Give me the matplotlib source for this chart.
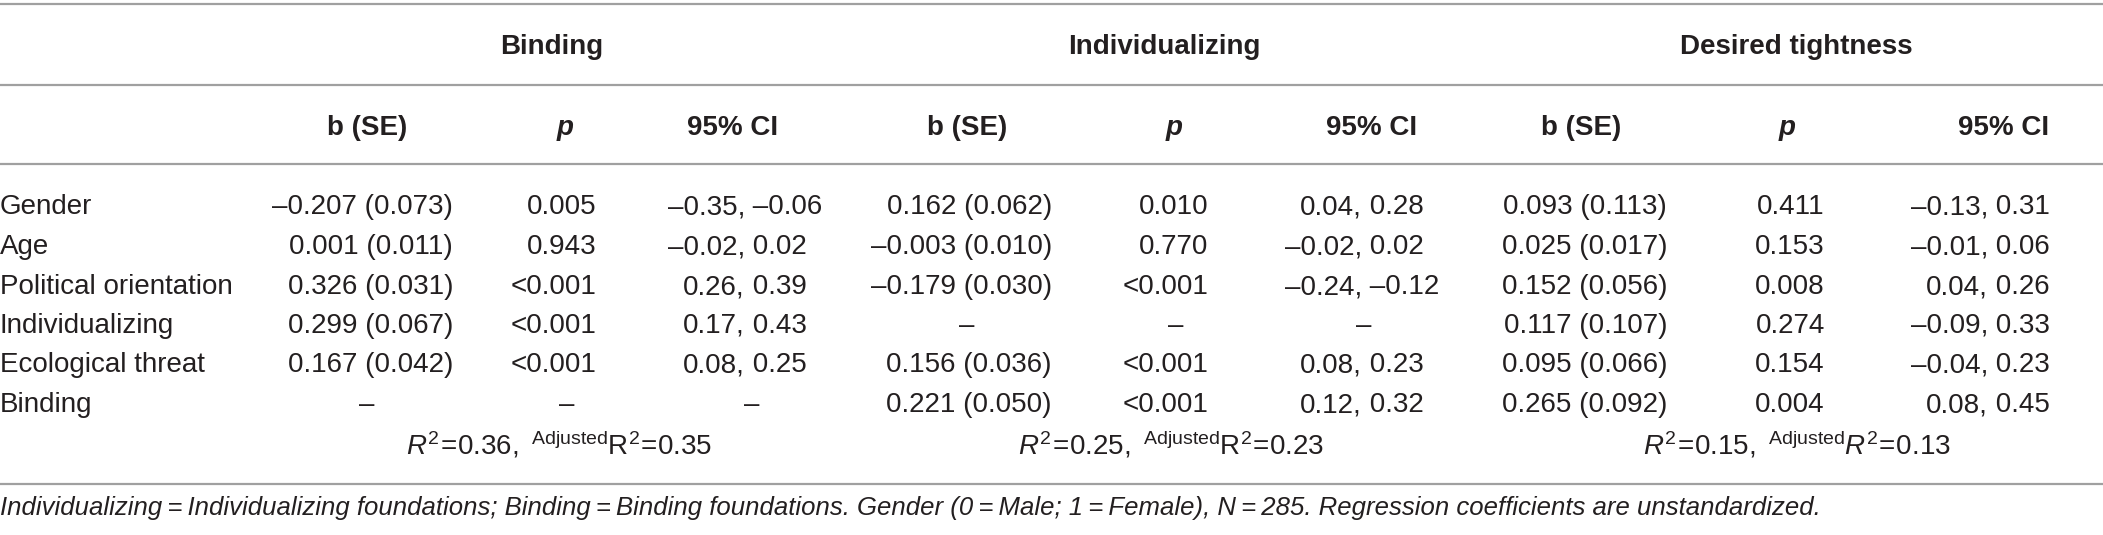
import matplotlib
matplotlib.use("Agg")
import matplotlib.pyplot as plt

plt.rcParams['font.family'] = ['Liberation Sans', 'DejaVu Sans']
plt.rcParams['mathtext.fontset'] = 'custom'
plt.rcParams['mathtext.rm'] = 'Liberation Sans'
plt.rcParams['mathtext.it'] = 'Liberation Sans:italic'
plt.rcParams['mathtext.bf'] = 'Liberation Sans:bold'

# Table content
groups = ['Binding', 'Individualizing', 'Desired tightness']
predictors = ['Gender', 'Age', 'Political orientation', 'Individualizing',
              'Ecological threat', 'Binding']

binding_b = ['\u20130.207 (0.073)', '0.001 (0.011)', '0.326 (0.031)',
             '0.299 (0.067)', '0.167 (0.042)', '\u2013']
binding_p = ['0.005', '0.943', '<0.001', '<0.001', '<0.001', '\u2013']
binding_ci = ['\u20130.35, \u20130.06', '\u20130.02, 0.02', '0.26, 0.39',
              '0.17, 0.43', '0.08, 0.25', '\u2013']

indiv_b = ['0.162 (0.062)', '\u20130.003 (0.010)', '\u20130.179 (0.030)',
           '\u2013', '0.156 (0.036)', '0.221 (0.050)']
indiv_p = ['0.010', '0.770', '<0.001', '\u2013', '<0.001', '<0.001']
indiv_ci = ['0.04, 0.28', '\u20130.02, 0.02', '\u20130.24, \u20130.12',
            '\u2013', '0.08, 0.23', '0.12, 0.32']

tight_b = ['0.093 (0.113)', '0.025 (0.017)', '0.152 (0.056)',
           '0.117 (0.107)', '0.095 (0.066)', '0.265 (0.092)']
tight_p = ['0.411', '0.153', '0.008', '0.274', '0.154', '0.004']
tight_ci = ['\u20130.13, 0.31', '\u20130.01, 0.06', '0.04, 0.26',
            '\u20130.09, 0.33', '\u20130.04, 0.23', '0.08, 0.45']

r2 = ['0.36', '0.25', '0.15']
adj_r2 = ['0.35', '0.23', '0.13']
adj_italic = [False, False, True]

footnote = ('Individualizing\u2009=\u2009Individualizing foundations; '
            'Binding\u2009=\u2009Binding foundations. Gender (0\u2009=\u2009Male; '
            '1\u2009=\u2009Female), N\u2009=\u2009285. Regression coefficients are unstandardized.')

# Layout (pixel coordinates)
W, H = 2103, 535
TXT = '#231f20'
LINE = '#a0a0a0'
FS = 20

group_cx = [552, 1164, 1796]
b_center = [367, 967, 1581]
b_right = [453, 1052, 1667]
p_center = [565, 1174, 1787]
p_right = [596, 1208, 1825]
ci_head = [733, 1372, 2004]
ci_comma = [745, 1362, 1988]
ci_dash = [752, 1364, 1960]
r2_cx = [559, 1171, 1797]

row_y = [207, 247, 287, 326, 365, 405]
r2_y = 445

fig = plt.figure(figsize=(W / 100, H / 100), dpi=100)
ax = fig.add_axes([0, 0, 1, 1])
ax.set_xlim(0, W)
ax.set_ylim(H, 0)
ax.axis('off')

for y in [4, 85, 164, 484]:
    ax.plot([0, W], [y, y], color=LINE, lw=1.6, solid_capstyle='butt')

# headers
for g in range(3):
    ax.text(group_cx[g], 47, groups[g], ha='center', va='center',
            fontsize=FS, fontweight='bold', color=TXT)
    ax.text(b_center[g], 128, 'b (SE)', ha='center', va='center',
            fontsize=FS, fontweight='bold', color=TXT)
    ax.text(p_center[g], 128, 'p', ha='center', va='center',
            fontsize=FS, fontweight='bold', style='italic', color=TXT)
    ax.text(ci_head[g], 128, '95% CI', ha='center', va='center',
            fontsize=FS, fontweight='bold', color=TXT)

# body
cols = [(binding_b, binding_p, binding_ci),
        (indiv_b, indiv_p, indiv_ci),
        (tight_b, tight_p, tight_ci)]

for i, name in enumerate(predictors):
    y = row_y[i]
    ax.text(0, y, name, ha='left', va='center', fontsize=FS, color=TXT)
    for g, (bs, ps, cis) in enumerate(cols):
        b, p, ci = bs[i], ps[i], cis[i]
        if b == '\u2013':
            ax.text(b_center[g], y, b, ha='center', va='center', fontsize=FS, color=TXT)
        else:
            ax.text(b_right[g], y, b, ha='right', va='center', fontsize=FS, color=TXT)
        if p == '\u2013':
            ax.text(p_center[g] + 2, y, p, ha='center', va='center', fontsize=FS, color=TXT)
        else:
            ax.text(p_right[g], y, p, ha='right', va='center', fontsize=FS, color=TXT)
        if ci == '\u2013':
            ax.text(ci_dash[g], y, ci, ha='center', va='center', fontsize=FS, color=TXT)
        else:
            left, right = ci.split(', ')
            ax.text(ci_comma[g], y, left + ',', ha='right', va='center', fontsize=FS, color=TXT)
            ax.text(ci_comma[g], y, ' ' + right, ha='left', va='center', fontsize=FS, color=TXT)

# R squared row
for g in range(3):
    rr = r'\mathit{R}' if adj_italic[g] else r'\mathrm{R}'
    s = (r'$\mathit{R}^{2}\!=\!%s,\ {}^{\mathrm{Adjusted}}%s^{2}\!=\!%s$'
         % (r2[g], rr, adj_r2[g]))
    ax.text(r2_cx[g], r2_y, s, ha='center', va='center', fontsize=FS, color=TXT)

ax.text(0, 508, footnote, ha='left', va='center', fontsize=18.5,
        style='italic', color=TXT)

fig.savefig('out.png', dpi=100)
